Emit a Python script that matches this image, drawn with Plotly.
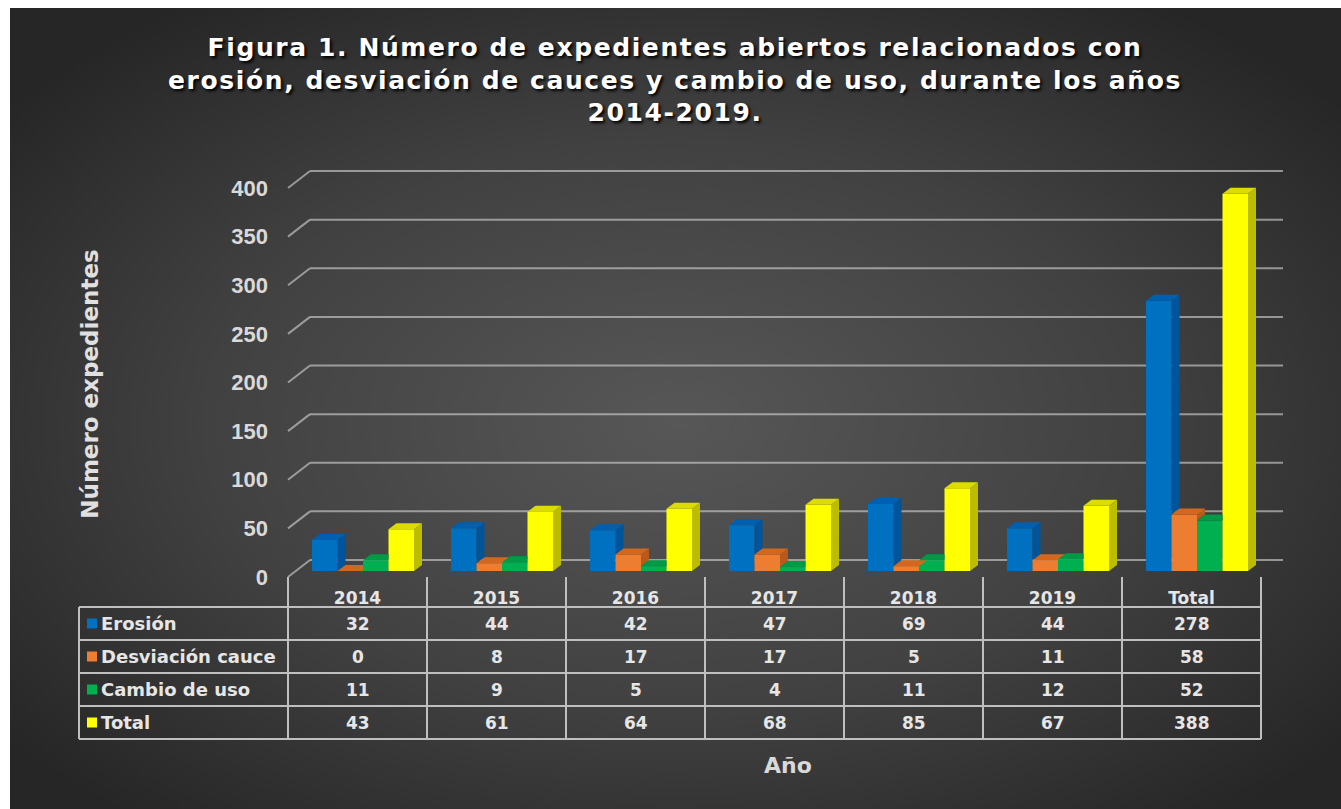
import base64
import plotly.graph_objects as go

# ---------------- data ----------------
categories = ["2014", "2015", "2016", "2017", "2018", "2019", "Total"]
series_names = ["Erosión", "Desviación cauce", "Cambio de uso", "Total"]
erosion = [32, 44, 42, 47, 69, 44, 278]
desviacion_cauce = [0, 8, 17, 17, 5, 11, 58]
cambio_uso = [11, 9, 5, 4, 11, 12, 52]
total = [43, 61, 64, 68, 85, 67, 388]
y_tick_values = [0, 50, 100, 150, 200, 250, 300, 350, 400]
y_tick_labels = ["0", "50", "100", "150", "200", "250", "300", "350", "400"]

series_values = [erosion, desviacion_cauce, cambio_uso, total]

# ---------------- styles ----------------
front_colors = ["#0070C0", "#ED7D31", "#00B050", "#FFFF00"]
side_colors = ["#00549a", "#b95a1c", "#00853c", "#bcbc00"]
top_colors = ["#005fae", "#d2681f", "#009a47", "#dcdc00"]

W, H = 1341, 809
PX_L, PX_R, PX_T, PX_B = 280, 1296, 158, 610
COL_LEFT, COL_W = 288.0, 139.0
Y_ZERO, KY = 577.0, 389.0 / 400.0
BAR_W_PX, GROUP_PAD_PX, BAR_LIFT_PX = 25.5, 24.0, 6.0
DEPTH_X, DEPTH_Y = 8.0, 6.0
WALL_X, WALL_Y = 22.0, 17.0

x_lo = -0.5 - (COL_LEFT - PX_L) / COL_W
x_hi = x_lo + (PX_R - PX_L) / COL_W
y_lo = -(PX_B - Y_ZERO) / KY
y_hi = (Y_ZERO - PX_T) / KY


def ux(p):
    return p / COL_W


def uy(p):
    return p / KY


def pxx(p):
    return p / W


def pxy(p):
    return 1 - p / H


BOLD = "DejaVu Sans"
TXT = "#e6e6e6"

fig = go.Figure()

base = uy(BAR_LIFT_PX)
n = len(categories)
xs = list(range(n))
bw = ux(BAR_W_PX)
dx, dy = ux(DEPTH_X), uy(DEPTH_Y)

# front faces (real bars)
for k, vals in enumerate(series_values):
    off = -0.5 + ux(GROUP_PAD_PX + k * BAR_W_PX)
    fig.add_trace(go.Bar(
        x=xs, y=vals, base=base, offset=off, width=bw,
        marker=dict(color=front_colors[k], line=dict(width=0)),
        name=series_names[k], showlegend=False,
    ))

# 3D side and top faces
for k, vals in enumerate(series_values):
    off = -0.5 + ux(GROUP_PAD_PX + k * BAR_W_PX)
    sx, sy, tx, ty = [], [], [], []
    for i, v in enumerate(vals):
        L = i + off
        R = L + bw
        T = base + v
        nxt = base + series_values[k + 1][i] if k < len(series_values) - 1 else None
        bottom = base if nxt is None else max(base, nxt)
        if T > bottom:
            sx += [R, R, R + dx, R + dx, R, None]
            sy += [bottom, T, T + dy, bottom + dy, bottom, None]
        if nxt is not None and nxt >= T + dy:
            tx += [L, R, R, L + dx, L, None]
            ty += [T, T, T + dy, T + dy, T, None]
        else:
            tx += [L, R, R + dx, L + dx, L, None]
            ty += [T, T, T + dy, T + dy, T, None]
    fig.add_trace(go.Scatter(x=sx, y=sy, mode="lines", fill="toself",
                             fillcolor=side_colors[k], line=dict(width=0),
                             hoverinfo="skip", showlegend=False))
    fig.add_trace(go.Scatter(x=tx, y=ty, mode="lines", fill="toself",
                             fillcolor=top_colors[k], line=dict(width=0),
                             hoverinfo="skip", showlegend=False))

shapes = []
GRID = "rgba(210,210,210,0.62)"
# back wall gridlines with side-wall diagonals
for v in y_tick_values:
    xb = -0.5 + ux(WALL_X)
    yb = v + uy(WALL_Y)
    shapes.append(dict(type="line", xref="x", yref="y", x0=-0.5, y0=v, x1=xb, y1=yb,
                       line=dict(color=GRID, width=2), layer="below"))
    shapes.append(dict(type="line", xref="x", yref="y", x0=xb, y0=yb, x1=n - 0.5 + ux(WALL_X), y1=yb,
                       line=dict(color=GRID, width=2), layer="below"))

# data table
TL = "#bfbfbf"
row_edges = [607, 640, 673, 706, 739]
table_left = 79
table_right = COL_LEFT + COL_W * n
for ry in row_edges:
    shapes.append(dict(type="line", xref="paper", yref="paper", x0=pxx(table_left), x1=pxx(table_right),
                       y0=pxy(ry), y1=pxy(ry), line=dict(color=TL, width=2)))
shapes.append(dict(type="line", xref="paper", yref="paper", x0=pxx(table_left), x1=pxx(table_left),
                   y0=pxy(row_edges[0]), y1=pxy(row_edges[-1]), line=dict(color=TL, width=2)))
for c in range(n + 1):
    cx = COL_LEFT + COL_W * c
    shapes.append(dict(type="line", xref="paper", yref="paper", x0=pxx(cx), x1=pxx(cx),
                       y0=pxy(Y_ZERO), y1=pxy(row_edges[-1]), line=dict(color=TL, width=2)))

annotations = []
for r, name in enumerate(series_names):
    cy = (row_edges[r] + row_edges[r + 1]) / 2
    shapes.append(dict(type="rect", xref="paper", yref="paper", x0=pxx(87), x1=pxx(97),
                       y0=pxy(cy - 5), y1=pxy(cy + 5), fillcolor=front_colors[r], line=dict(width=0)))
    annotations.append(dict(xref="paper", yref="paper", x=pxx(99), y=pxy(cy), xanchor="left",
                            yanchor="middle", text=name, showarrow=False,
                            font=dict(family=BOLD, size=18, color=TXT, weight="bold")))
    for i, v in enumerate(series_values[r]):
        annotations.append(dict(xref="x", yref="paper", x=i, y=pxy(cy), xanchor="center",
                                yanchor="middle", text=str(v), showarrow=False,
                                font=dict(family=BOLD, size=17, color=TXT, weight="bold")))

# background gradient
svg = ("<svg xmlns='http://www.w3.org/2000/svg' width='1331' height='801' viewBox='0 0 1331 801' "
       "preserveAspectRatio='none'><defs><radialGradient id='g' cx='0.5' cy='0.52' r='0.64'>"
       "<stop offset='0' stop-color='#575757'/><stop offset='0.55' stop-color='#414141'/>"
       "<stop offset='1' stop-color='#262626'/></radialGradient></defs>"
       "<rect width='1331' height='801' fill='url(#g)'/></svg>")
src = "data:image/svg+xml;base64," + base64.b64encode(svg.encode()).decode()

fig.update_layout(
    width=W, height=H,
    margin=dict(l=0, r=0, t=0, b=0),
    paper_bgcolor="white", plot_bgcolor="rgba(0,0,0,0)",
    barmode="overlay", hovermode=False,
    images=[dict(source=src, xref="paper", yref="paper", x=pxx(10), y=pxy(8), sizex=1 - pxx(10),
                 sizey=1 - 8 / H, xanchor="left", yanchor="top", sizing="stretch", layer="below")],
    title=dict(
        text="Figura 1. Número de expedientes abiertos relacionados con<br>"
             "erosión, desviación de cauces y cambio de uso, durante los años<br>2014-2019.",
        x=pxx(675), xanchor="center", y=pxy(56), yanchor="top",
        font=dict(family=BOLD, size=25, color="white", weight="bold", shadow="2px 2px 3px #000000"),
    ),
    xaxis=dict(
        domain=[pxx(PX_L), pxx(PX_R)], range=[x_lo, x_hi],
        tickvals=xs, ticktext=categories, ticklabelposition="inside",
        tickfont=dict(family=BOLD, size=17, color=TXT, weight="bold"),
        showgrid=False, zeroline=False, showline=False, ticks="",
        title=dict(text="Año", standoff=151, font=dict(family=BOLD, size=22, color="#d9d9d9", weight="bold")),
        fixedrange=True,
    ),
    yaxis=dict(
        domain=[pxy(PX_B), pxy(PX_T)], range=[y_lo, y_hi],
        tickvals=y_tick_values, ticktext=y_tick_labels,
        tickfont=dict(family="Liberation Sans", size=22, color="#d9d9d9", weight="bold"),
        ticklabelstandoff=11,
        showgrid=False, zeroline=False, showline=False, ticks="",
        title=dict(text="Número expedientes", standoff=126,
                   font=dict(family=BOLD, size=23, color="#e0e0e0", weight="bold")),
        fixedrange=True,
    ),
    shapes=shapes,
    annotations=annotations,
)

fig.write_html(
    "out.html", config=dict(displayModeBar=False),
    post_script=("document.body.style.margin='0';document.body.style.overflow='hidden';"
                 "document.querySelectorAll('.gtitle').forEach(function(e){e.style.letterSpacing='1.6px';});"),
)
